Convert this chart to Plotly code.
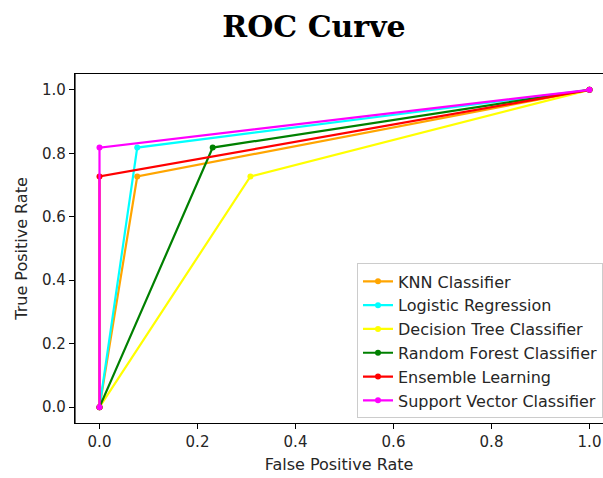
import plotly.graph_objects as go

names = ["KNN Classifier", "Logistic Regression", "Decision Tree Classifier",
         "Random Forest Classifier", "Ensemble Learning", "Support Vector Classifier"]
colors = ["#FFA500", "#00FFFF", "#FFFF00", "#008000", "#FF0000", "#FF00FF"]
fpr = [
    [0.0, 0.077, 1.0],
    [0.0, 0.077, 1.0],
    [0.0, 0.308, 1.0],
    [0.0, 0.231, 1.0],
    [0.0, 0.0, 1.0],
    [0.0, 0.0, 1.0],
]
tpr = [
    [0.0, 0.727, 1.0],
    [0.0, 0.818, 1.0],
    [0.0, 0.727, 1.0],
    [0.0, 0.818, 1.0],
    [0.0, 0.727, 1.0],
    [0.0, 0.818, 1.0],
]
tick_vals = [0.0, 0.2, 0.4, 0.6, 0.8, 1.0]
tick_text = ["0.0", "0.2", "0.4", "0.6", "0.8", "1.0"]

fig = go.Figure()
for i, (n, c) in enumerate(zip(names, colors)):
    fig.add_trace(go.Scatter(
        x=fpr[i], y=tpr[i], mode="lines+markers", name=n,
        line=dict(color=c, width=2.2), marker=dict(color=c, size=6),
        legendgroup=str(i),
    ))

W, H = 603, 478
left, top, bottom = 75, 74, 55
px_per_x = 490.0
x0 = -0.05
x1 = x0 + (W - left) / px_per_x

fig.update_layout(
    width=W, height=H,
    margin=dict(l=left, r=0, t=top, b=bottom),
    paper_bgcolor="white", plot_bgcolor="white",
    font=dict(family="DejaVu Sans", size=15, color="#262626"),
    title=dict(text="<b>ROC Curve</b>", x=314 / W, xanchor="center",
               y=1 - 26 / H, yanchor="middle", yref="container",
               font=dict(family="DejaVu Serif", size=30, color="black")),
    xaxis=dict(range=[x0, x1], tickvals=tick_vals, ticktext=tick_text,
               showgrid=False, zeroline=False, showline=True, mirror=True,
               linecolor="black", linewidth=1.2, ticks="outside", ticklen=5,
               tickcolor="black", tickfont=dict(size=15),
               title=dict(text="False Positive Rate", standoff=8, font=dict(size=16))),
    yaxis=dict(range=[-0.05, 1.05], tickvals=tick_vals, ticktext=tick_text,
               showgrid=False, zeroline=False, showline=True, mirror=False,
               linecolor="black", linewidth=1.2, ticks="outside", ticklen=5,
               tickcolor="black", tickfont=dict(size=15),
               title=dict(text="True Positive Rate", standoff=10, font=dict(size=16))),
    legend=dict(x=1.0, xanchor="right", y=0.013, yanchor="bottom",
                bgcolor="white", bordercolor="#cccccc", borderwidth=1,
                font=dict(size=16, color="#262626"), tracegroupgap=0),
    showlegend=True,
)
fig.add_shape(type="line", xref="paper", yref="paper", x0=0, x1=0, y0=0, y1=1,
              line=dict(color="black", width=1.2))

fig.write_html("out.html")
